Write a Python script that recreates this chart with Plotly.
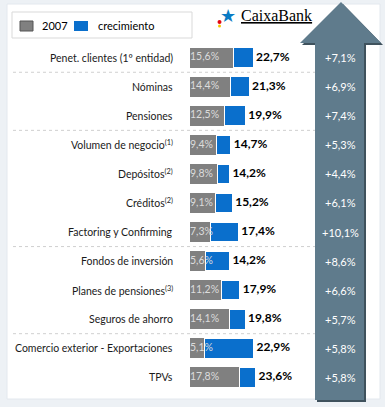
import plotly.graph_objects as go

categories = ["Penet. clientes (1º entidad)", "Nóminas", "Pensiones",
              "Volumen de negocio<sup>(1)</sup>", "Depósitos<sup>(2)</sup>",
              "Créditos<sup>(2)</sup>", "Factoring y Confirming",
              "Fondos de inversión", "Planes de pensiones<sup>(3)</sup>",
              "Seguros de ahorro", "Comercio exterior - Exportaciones", "TPVs"]
v2007 = [15.6, 14.4, 12.5, 9.4, 9.8, 9.1, 7.3, 5.6, 11.2, 14.1, 5.1, 17.8]
vtotal = [22.7, 21.3, 19.9, 14.7, 14.2, 15.2, 17.4, 14.2, 17.9, 19.8, 22.9, 23.6]
growth_labels = ["+7,1%", "+6,9%", "+7,4%", "+5,3%", "+4,4%", "+6,1%", "+10,1%",
                 "+8,6%", "+6,6%", "+5,7%", "+5,8%", "+5,8%"]
separators_after = [0, 2, 6, 9]

W, H = 385, 407
def px(x): return x / W
def py(y): return 1 - y / H

FONT = "Lato"
BFONT = "Lato"
GRAY = "#808080"
BLUE = "#0a6fcc"
ARROW = "#5f7b8c"

def fmt(v):
    return f"{v:.1f}".replace(".", ",") + "%"

crec = [round(t - a, 1) for t, a in zip(vtotal, v2007)]

fig = go.Figure()
fig.add_trace(go.Bar(y=categories, x=v2007, orientation="h", marker_color=GRAY,
                     marker_line_width=0, width=0.68, name="2007", hoverinfo="skip"))
fig.add_trace(go.Bar(y=categories, x=crec, orientation="h", marker_color=BLUE,
                     marker_line=dict(color="white", width=1), width=0.68,
                     name="crecimiento", hoverinfo="skip"))
fig.add_trace(go.Scatter(y=categories, x=[0] * len(categories), mode="text",
                         text=[fmt(v) for v in v2007], textposition="middle right",
                         textfont=dict(family=BFONT, size=10.5, color="#dcdcdc"),
                         hoverinfo="skip"))
fig.add_trace(go.Scatter(y=categories, x=vtotal, mode="text",
                         text=[f"<b>\u00a0{fmt(v)}</b>" for v in vtotal],
                         textposition="middle right",
                         textfont=dict(family=BFONT, size=12, color="black"),
                         hoverinfo="skip"))

shapes = []
shapes.append(dict(type="rect", xref="paper", yref="paper", x0=px(7), x1=px(380),
                   y0=py(399), y1=py(4), fillcolor="white",
                   line=dict(color="#e3e8ee", width=1), layer="below"))
for s in separators_after:
    shapes.append(dict(type="line", xref="paper", yref="y", x0=px(13), x1=px(316),
                       y0=s + 0.5, y1=s + 0.5,
                       line=dict(color="#c4c4c4", width=0.8, dash="dot")))
def arrow_path(dx, dy):
    pts = [(315, 400), (315, 43), (300, 43), (341, 2), (381, 43), (364, 43), (364, 400)]
    return "M " + " L ".join(f"{px(x + dx)},{py(y + dy)}" for x, y in pts) + " Z"
shapes.append(dict(type="path", xref="paper", yref="paper", path=arrow_path(2, 2),
                   fillcolor="#3f525d", line=dict(width=0)))
shapes.append(dict(type="path", xref="paper", yref="paper", path=arrow_path(0, 0),
                   fillcolor=ARROW, line=dict(width=0)))
shapes.append(dict(type="rect", xref="paper", yref="paper", x0=px(12), x1=px(192),
                   y0=py(38), y1=py(12), fillcolor="white",
                   line=dict(color="#d9d9d9", width=1)))
shapes.append(dict(type="rect", xref="paper", yref="paper", x0=px(20), x1=px(33),
                   y0=py(31), y1=py(21), fillcolor=GRAY,
                   line=dict(color="#555555", width=1)))
shapes.append(dict(type="rect", xref="paper", yref="paper", x0=px(74), x1=px(88),
                   y0=py(31), y1=py(21), fillcolor=BLUE, line=dict(width=0)))
shapes.append(dict(type="circle", xref="paper", yref="paper", x0=px(217.5), x1=px(221.5),
                   y0=py(24), y1=py(20), fillcolor="#e30613", line=dict(width=0)))
shapes.append(dict(type="circle", xref="paper", yref="paper", x0=px(218), x1=px(221),
                   y0=py(27.5), y1=py(24.5), fillcolor="#f7c600", line=dict(width=0)))

annotations = []
annotations.append(dict(xref="paper", yref="paper", x=px(40), y=py(26), text="2007",
                        showarrow=False, xanchor="left", yanchor="middle",
                        font=dict(family=BFONT, size=11, color="black")))
annotations.append(dict(xref="paper", yref="paper", x=px(96), y=py(26), text="crecimiento",
                        showarrow=False, xanchor="left", yanchor="middle",
                        font=dict(family=BFONT, size=11, color="black")))
annotations.append(dict(xref="paper", yref="paper", x=px(228), y=py(15), text="★",
                        showarrow=False, xanchor="center", yanchor="middle",
                        font=dict(family="DejaVu Sans", size=18, color="#0a7bc4")))
annotations.append(dict(xref="paper", yref="paper", x=px(239), y=py(16),
                        text="<u>CaixaBank</u>", showarrow=False, xanchor="left",
                        yanchor="middle",
                        font=dict(family="Liberation Serif", size=16, color="black")))
for c in categories:
    annotations.append(dict(xref="paper", yref="y", x=px(175), y=c, text=c,
                            showarrow=False, xanchor="right", yanchor="middle",
                            font=dict(family=FONT, size=10.5, color="#1a1a1a")))
for c, g in zip(categories, growth_labels):
    annotations.append(dict(xref="paper", yref="y", x=px(340), y=c, text=g,
                            showarrow=False, xanchor="center", yanchor="middle",
                            font=dict(family=BFONT, size=11, color="white")))

fig.update_layout(
    width=W, height=H, margin=dict(l=0, r=0, t=0, b=0),
    paper_bgcolor="#edf1f5", plot_bgcolor="rgba(0,0,0,0)",
    barmode="stack", bargap=0.32, showlegend=False,
    shapes=shapes, annotations=annotations,
    xaxis=dict(domain=[px(190), 1], range=[0, (W - 190) / 2.78], visible=False,
               fixedrange=True),
    yaxis=dict(domain=[py(395), py(40)], autorange="reversed",
               showticklabels=False, ticks="",
               showline=False, showgrid=False, zeroline=False,
               fixedrange=True),
)

fig.write_html("out.html", config={"displayModeBar": False},
               post_script="document.body.style.margin='0px';")
